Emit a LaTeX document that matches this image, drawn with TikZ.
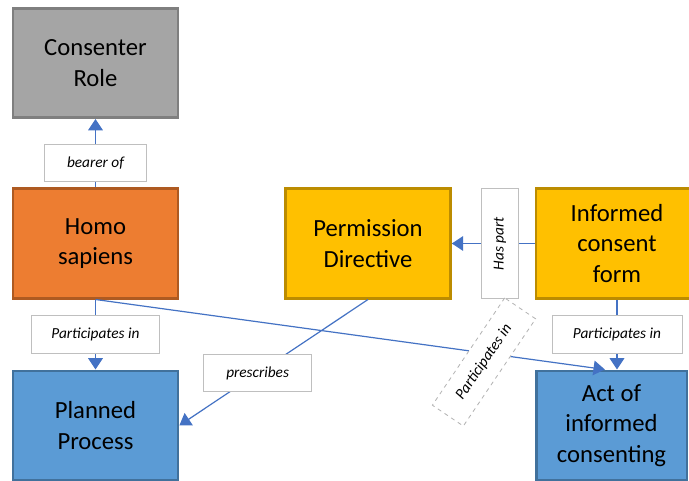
\documentclass[tikz,border=0pt]{standalone}
\usepackage{fontspec}
\setmainfont{Carlito}
\usetikzlibrary{arrows.meta}
\definecolor{roleGray}{HTML}{A5A5A5}
\definecolor{roleEdge}{HTML}{7F7F7F}
\definecolor{agentOrange}{HTML}{ED7D31}
\definecolor{agentEdge}{HTML}{AE5A21}
\definecolor{docYellow}{HTML}{FFC000}
\definecolor{docEdge}{HTML}{BC8C00}
\definecolor{procBlue}{HTML}{5B9BD5}
\definecolor{procEdge}{HTML}{41719C}
\definecolor{linkBlue}{HTML}{4472C4}
\begin{document}
\begin{tikzpicture}[x=0.75pt,y=-0.75pt,
  box/.style={rectangle,draw,line width=2pt,minimum width=123.75pt,minimum height=82pt,align=center,font=\fontsize{18.5}{23}\selectfont},
  rel/.style={rectangle,draw=black!25,fill=white,line width=0.6pt,minimum height=28pt,inner sep=2pt,font=\fontsize{11.5}{13}\selectfont\itshape},
  link/.style={draw=linkBlue,line width=0.9pt,-{Triangle[width=11pt,length=8.5pt]}}]
\useasboundingbox (0,0) rectangle (689,481);
\clip (0,0) rectangle (689,481);
\fill[white] (0,0) rectangle (689,481);
\node[box,fill=roleGray,draw=roleEdge] (role) at (95.5,63) {Consenter\\Role};
\node[box,fill=agentOrange,draw=agentEdge] (homo) at (95.5,243.5) {Homo\\sapiens};
\node[box,fill=docYellow,draw=docEdge] (perm) at (368,243.5) {Permission\\Directive};
\node[box,fill=docYellow,draw=docEdge,minimum width=121.5pt] (form) at (617,243.5) {Informed\\consent\\form};
\node[box,fill=procBlue,draw=procEdge] (proc) at (95.5,425.5) {Planned\\Process};
\node[box,fill=procBlue,draw=procEdge,minimum width=113pt] (act) at (611.5,425.5) {Act of\\informed\\consenting};
\draw[link] (homo) -- (role) node[rel,pos=0.36,minimum width=76pt] (bearer) {bearer of};
\draw[link] (homo.south) -- (proc.north) node[rel,midway,minimum width=96pt] (partL) {Participates in};
\draw[link] (homo.south) -- ([xshift=-5]act.north);
\draw[link] (form.south) -- (form.south |- act.north) node[rel,midway,minimum width=97.5pt] (partR) {Participates in};
\draw[link] (form.west) -- (perm.east) node[rel,pos=0.42,rotate=90,minimum width=82pt] (haspart) {Has part};
\draw[link] (perm.south) -- (proc.east) node[rel,pos=0.585,minimum width=81pt] (prescr) {prescribes};
\node[rel,dashed,draw=black!30,rotate=56,minimum width=97pt] (partD) at (484,362) {Participates in};
\end{tikzpicture}
\end{document}
